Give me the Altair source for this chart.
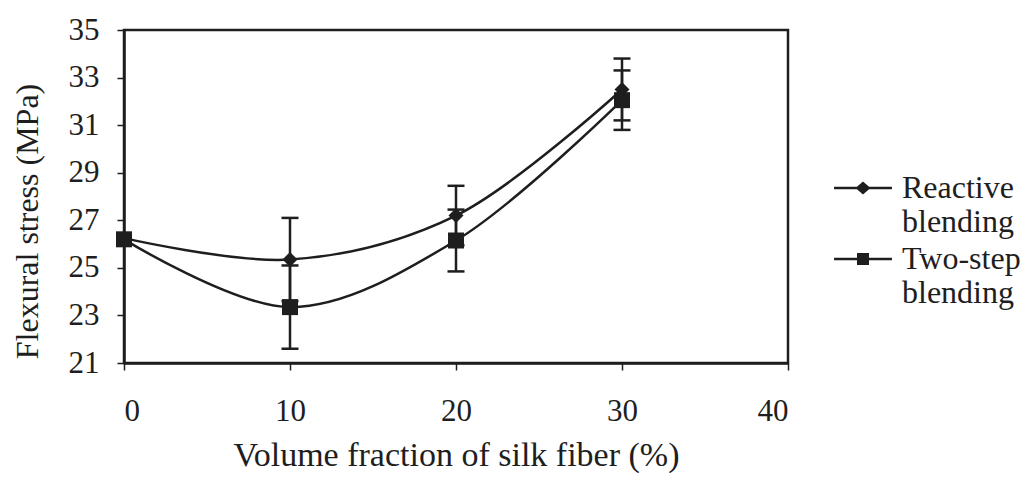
import altair as alt
import pandas as pd

# ---- data ----
x_vals = [0, 10, 20, 30]
reactive = [26.25, 25.35, 27.2, 32.5]
reactive_err = [0.0, 1.75, 1.25, 1.3]
twostep = [26.2, 23.35, 26.15, 32.05]
twostep_err = [0.0, 1.75, 1.3, 1.25]
series_names = ["Reactive blending", "Two-step blending"]
x_ticks = [0, 10, 20, 30, 40]
y_ticks = [21, 23, 25, 27, 29, 31, 33, 35]

INK = "#1e1e1e"
FONT = "Liberation Serif"
FS = 31

rows = []
for name, ys, es in [(series_names[0], reactive, reactive_err),
                     (series_names[1], twostep, twostep_err)]:
    for x, y, e in zip(x_vals, ys, es):
        rows.append({"series": name, "x": x, "y": y, "lo": y - e, "hi": y + e, "err": e})
df = pd.DataFrame(rows)

xenc = alt.X("x:Q", scale=alt.Scale(domain=[0, 40], nice=False),
             axis=alt.Axis(values=x_ticks, title="Volume fraction of silk fiber (%)",
                           tickSize=7, labelPadding=26, titleBaseline="alphabetic",
                           titleY=102, titleFontSize=34, grid=False))
yenc = alt.Y("y:Q", scale=alt.Scale(domain=[21, 35], nice=False, zero=False),
             axis=alt.Axis(values=y_ticks, title="Flexural stress (MPa)",
                           tickSize=7, labelPadding=18, titleBaseline="alphabetic",
                           titleX=-87, titleY=191, titleFontSize=32, grid=False))

base = alt.Chart(df)

lines = base.mark_line(interpolate="catmull-rom", color=INK, strokeWidth=2.5).encode(
    x=xenc, y=yenc, detail="series:N")

err_df = base.transform_filter("datum.err > 0")
rules = err_df.mark_rule(color=INK, strokeWidth=2.5).encode(
    x="x:Q", y="lo:Q", y2="hi:Q")
caps = err_df.transform_fold(["lo", "hi"], as_=["end", "val"]).mark_tick(
    orient="horizontal", color=INK, size=17, thickness=2.5, opacity=1).encode(
    x="x:Q", y="val:Q")

pts_r = base.transform_filter(alt.datum.series == series_names[0]).mark_point(
    shape="diamond", filled=True, size=225, color=INK, opacity=1).encode(x="x:Q", y="y:Q")
pts_t = base.transform_filter(alt.datum.series == series_names[1]).mark_point(
    shape="square", filled=True, size=256, color=INK, opacity=1).encode(x="x:Q", y="y:Q")

# legend glyphs: a short line with the series marker (unit = 15 px)
sym_r = "M-1.93,-0.08H1.93V0.08H-1.93Z M-0.5,0L0,-0.43L0.5,0L0,0.43Z"
sym_t = "M-1.93,-0.08H1.93V0.08H-1.93Z M-0.4,-0.4H0.4V0.4H-0.4Z"

legend_layer = base.transform_filter("false").mark_point(
    filled=True, fill=INK, opacity=1).encode(
    x="x:Q", y="y:Q",
    shape=alt.Shape("series:N",
                    scale=alt.Scale(domain=series_names, range=[sym_r, sym_t]),
                    legend=alt.Legend(title=None, orient="none", legendX=723, legendY=142,
                                      symbolSize=900, symbolStrokeWidth=0,
                                      symbolFillColor=INK,
                                      labelExpr="split(datum.label, ' ')",
                                      labelFont=FONT, labelFontSize=32, labelColor=INK,
                                      labelOffset=23, labelBaseline="middle",
                                      rowPadding=5, labelLimit=300)))

chart = alt.layer(lines, rules, caps, pts_r, pts_t, legend_layer).properties(
    width=664, height=333,
    autosize=alt.AutoSizeParams(type="none"),
    padding={"left": 116, "top": 22, "right": 233, "bottom": 110},
    background="white",
).configure_view(stroke=INK, strokeWidth=2.5).configure_axis(
    domainColor=INK, domainWidth=2.5, tickColor=INK, tickWidth=1.5,
    labelFont=FONT, labelFontSize=FS, labelColor=INK,
    titleFont=FONT, titleFontSize=FS, titleColor=INK, titleFontWeight="normal",
)

chart.save("out.html", embed_options={"renderer": "svg", "actions": False})
